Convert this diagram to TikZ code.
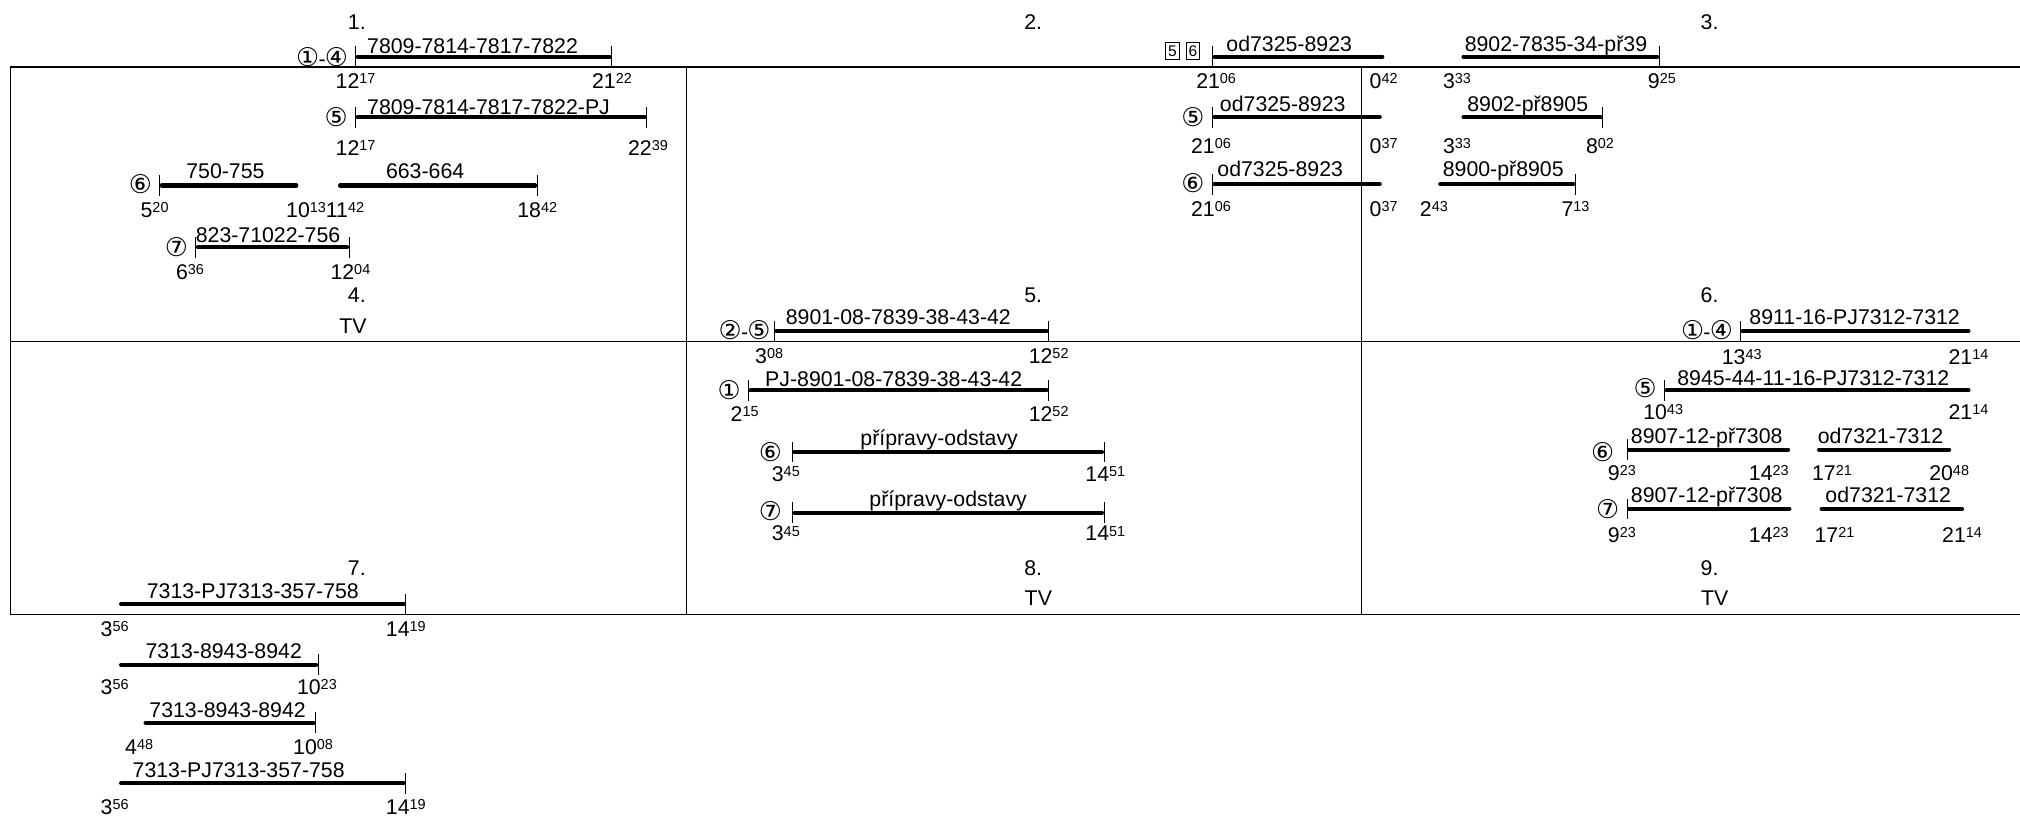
\documentclass[tikz,border=0pt]{standalone}
\usepackage{fontspec}
\setmainfont{Liberation Sans}
\newfontfamily\dvs{DejaVu Sans}
\newcounter{nn}
\newcommand\hs[2]{#1\raisebox{0.23em}{\fontsize{8.4}{9}\selectfont #2}}
\newcommand\cn[1]{{\dvs\fontsize{15}{16}\selectfont #1}}
\newcommand\rng[2]{\cn{#1}\kern-0.4pt-\kern-0.4pt\cn{#2}}
\newcommand\nxt{\stepcounter{nn}\edef\nname{n\arabic{nn}}}
\newcommand\trk[5]{%
  \draw[trainbar] ({#1+1.6*#4},#3) -- ({#2-1.6*#5},#3);%
  \ifnum#4=1 \draw[tickline] (#1,{#3-8}) -- (#1,{#3+8});\fi
  \ifnum#5=1 \draw[tickline] (#2,{#3-8}) -- (#2,{#3+8});\fi}
\newcommand\tml[3]{\nxt\node[tlbl] (\nname) at (#1,{#2+5.9}) {#3};}
\newcommand\blbl[3]{\nxt\node[lbl] (\nname) at (#1,{#2+5.9}) {#3};}
\newcommand\cblbl[3]{\nxt\node[clbl] (\nname) at (#1,{#2+5.9}) {#3};}
\newcommand\mk[3]{\nxt\node (\nname) at (#1,#2) {#3};}
\begin{document}
\begin{tikzpicture}[x=0.75pt,y=-0.75pt,
  every node/.style={inner sep=0pt, outer sep=0pt, font=\fontsize{12.4}{14}\selectfont},
  grid/.style={line width=0.8pt},
  vgrid/.style={line width=0.6pt},
  trainbar/.style={line width=2.4pt, line cap=round},
  tickline/.style={line width=0.6pt},
  lbl/.style={anchor=base west},
  clbl/.style={anchor=base},
  tlbl/.style={anchor=base},
  boxnum/.style={draw, line width=0.6pt, minimum width=7.8pt, minimum height=9.6pt, font=\fontsize{9}{10}\selectfont}]
\useasboundingbox (0,0) rectangle (1568,633);
% grid
\coordinate (tl) at (8,52); \coordinate (tr) at (1568,52);
\coordinate (ml) at (8,265); \coordinate (mr) at (1568,265);
\coordinate (bl) at (8,477); \coordinate (br) at (1568,477);
\coordinate (d1t) at (533,52); \coordinate (d1b) at (533,477);
\coordinate (d2t) at (1057,52); \coordinate (d2b) at (1057,477);
\draw[grid] (tl) -- (tr);
\draw[grid] (ml) -- (mr);
\draw[grid] (bl) -- (br);
\draw[vgrid] (tl) -- (bl);
\draw[vgrid] (d1t) -- (d1b);
\draw[vgrid] (d2t) -- (d2b);
% headers
\node (h1) at (277,17) {1.};
\node (h2) at (802,17) {2.};
\node (h3) at (1327,17) {3.};
\node (h4) at (277,229) {4.};
\node (tv4) at (274,253) {TV};
\node (h5) at (802,229) {5.};
\node (h6) at (1327,229) {6.};
\node (h7) at (277,441) {7.};
\node (h8) at (802,441) {8.};
\node (tv8) at (806,464) {TV};
\node (h9) at (1327,441) {9.};
\node (tv9) at (1331,464) {TV};
% cell 1
\mk{250}{44}{\rng{①}{④}}
\trk{276}{475}{44}{1}{1}
\blbl{285}{36}{7809-7814-7817-7822}
\tml{276}{63}{\hs{12}{17}} \tml{475}{63}{\hs{21}{22}}
\mk{261}{91}{\cn{⑤}}
\trk{276}{502}{91}{1}{1}
\blbl{285}{83}{7809-7814-7817-7822-PJ}
\tml{276}{115}{\hs{12}{17}} \tml{503}{115}{\hs{22}{39}}
\mk{109}{143}{\cn{⑥}}
\trk{124}{230}{144}{1}{0}
\cblbl{175}{133}{750-755}
\trk{264}{417}{144}{0}{1}
\cblbl{330}{133}{663-664}
\tml{120}{163}{\hs{5}{20}}
\node[anchor=base east] (t1013) at (253,{163+5.9}) {\hs{10}{13}};
\node[anchor=base west] (t1142) at (253,{163+5.9}) {\hs{11}{42}};
\tml{417}{163}{\hs{18}{42}}
\mk{137}{192}{\cn{⑦}}
\trk{152}{271}{192}{1}{1}
\blbl{152}{182}{823-71022-756}
\tml{147.5}{211}{\hs{6}{36}} \tml{272}{211}{\hs{12}{04}}
% cells 2 and 3
\node[boxnum] (b5) at (910,39.6) {5};
\node[boxnum] (b6) at (926,39.6) {6};
\trk{941}{1073}{44}{1}{0}
\blbl{952}{34}{od7325-8923}
\trk{1136}{1288}{44}{0}{1}
\blbl{1137}{34}{8902-7835-34-př39}
\tml{944}{63}{\hs{21}{06}} \tml{1074}{63}{\hs{0}{42}} \tml{1131}{63}{\hs{3}{33}} \tml{1290}{63}{\hs{9}{25}}
\mk{926}{91}{\cn{⑤}}
\trk{941}{1071}{91}{1}{0}
\blbl{947}{81}{od7325-8923}
\trk{1136}{1244}{91}{0}{1}
\blbl{1139}{81}{8902-př8905}
\tml{940}{113}{\hs{21}{06}} \tml{1074}{113}{\hs{0}{37}} \tml{1131}{113}{\hs{3}{33}} \tml{1242}{113}{\hs{8}{02}}
\mk{926}{142}{\cn{⑥}}
\trk{941}{1071}{143}{1}{0}
\blbl{945}{131}{od7325-8923}
\trk{1118}{1223}{143}{0}{1}
\blbl{1120}{131}{8900-př8905}
\tml{940}{162}{\hs{21}{06}} \tml{1074}{162}{\hs{0}{37}} \tml{1113}{162}{\hs{2}{43}} \tml{1223}{162}{\hs{7}{13}}
% cell 5
\mk{578}{256}{\rng{②}{⑤}}
\trk{601}{814}{257}{1}{1}
\blbl{610}{246}{8901-08-7839-38-43-42}
\tml{597}{276}{\hs{3}{08}} \tml{814}{276}{\hs{12}{52}}
\mk{566}{303}{\cn{①}}
\trk{581}{814}{303}{1}{1}
\blbl{594}{294}{PJ-8901-08-7839-38-43-42}
\tml{578}{321}{\hs{2}{15}} \tml{814}{321}{\hs{12}{52}}
\mk{598}{351}{\cn{⑥}}
\trk{615}{857}{351}{1}{1}
\cblbl{729}{340}{přípravy-odstavy}
\tml{610}{368}{\hs{3}{45}} \tml{858}{368}{\hs{14}{51}}
\mk{598}{397}{\cn{⑦}}
\trk{615}{857}{398}{1}{1}
\cblbl{736}{387}{přípravy-odstavy}
\tml{610}{414}{\hs{3}{45}} \tml{858}{414}{\hs{14}{51}}
% cell 6
\mk{1325}{256}{\rng{①}{④}}
\trk{1351}{1528}{257}{1}{0}
\blbl{1358}{246}{8911-16-PJ7312-7312}
\tml{1352}{277}{\hs{13}{43}} \tml{1528}{277}{\hs{21}{14}}
\mk{1277}{301}{\cn{⑤}}
\trk{1292}{1528}{303}{1}{0}
\blbl{1302}{293}{8945-44-11-16-PJ7312-7312}
\tml{1291}{320}{\hs{10}{43}} \tml{1528}{320}{\hs{21}{14}}
\mk{1244}{351}{\cn{⑥}}
\trk{1263}{1388}{349}{1}{0}
\blbl{1266}{338}{8907-12-př7308}
\trk{1412}{1513}{349}{0}{0}
\blbl{1411}{338}{od7321-7312}
\tml{1259}{367}{\hs{9}{23}} \tml{1373}{367}{\hs{14}{23}} \tml{1422}{367}{\hs{17}{21}} \tml{1513}{367}{\hs{20}{48}}
\mk{1248}{395}{\cn{⑦}}
\trk{1263}{1389}{395}{1}{0}
\blbl{1266}{384}{8907-12-př7308}
\trk{1414}{1523}{395}{0}{0}
\blbl{1417}{384}{od7321-7312}
\tml{1259}{415}{\hs{9}{23}} \tml{1373}{415}{\hs{14}{23}} \tml{1424}{415}{\hs{17}{21}} \tml{1523}{415}{\hs{21}{14}}
% cell 7
\trk{94}{315}{469}{0}{1}
\blbl{114}{459}{7313-PJ7313-357-758}
\tml{89}{488}{\hs{3}{56}} \tml{315}{488}{\hs{14}{19}}
\trk{94}{247}{516}{0}{1}
\blbl{113}{505}{7313-8943-8942}
\tml{89}{533}{\hs{3}{56}} \tml{246}{533}{\hs{10}{23}}
\trk{113}{245}{561}{0}{1}
\blbl{116}{551}{7313-8943-8942}
\tml{108}{580}{\hs{4}{48}} \tml{243}{580}{\hs{10}{08}}
\trk{94}{315}{608}{0}{1}
\blbl{103}{598}{7313-PJ7313-357-758}
\tml{89}{626}{\hs{3}{56}} \tml{315}{626}{\hs{14}{19}}
\end{tikzpicture}
\end{document}
